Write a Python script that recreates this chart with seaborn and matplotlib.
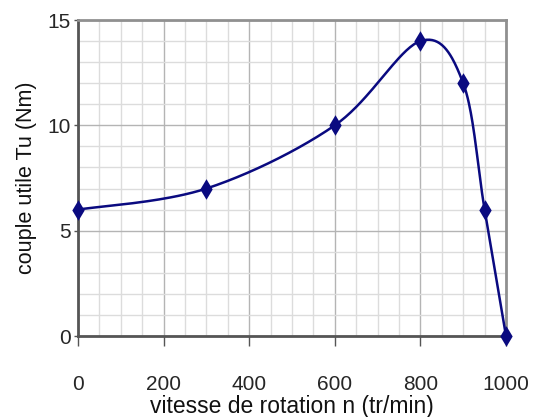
import numpy as np
import matplotlib
matplotlib.use("Agg")
import matplotlib.pyplot as plt
import seaborn as sns
import pandas as pd

# data
vitesse = [0, 300, 600, 800, 900, 950, 1000]
couple = [6, 7, 10, 14, 12, 6, 0]
x_ticks = [0, 200, 400, 600, 800, 1000]
y_ticks = [0, 5, 10, 15]

sns.set_theme(style="white")
plt.rcParams['font.family'] = ['Liberation Sans', 'DejaVu Sans']

def smooth(xs, ys, n=40):
    P = np.column_stack([xs, ys]).astype(float)
    out = []
    m = len(P)
    for i in range(m - 1):
        p0 = P[i - 1] if i > 0 else P[i]
        p1, p2 = P[i], P[i + 1]
        p3 = P[i + 2] if i + 2 < m else P[i + 1]
        c1 = p1 + (p2 - p0) / 6
        c2 = p2 - (p3 - p1) / 6
        t = np.linspace(0, 1, n)[:, None]
        seg = (1 - t) ** 3 * p1 + 3 * (1 - t) ** 2 * t * c1 + 3 * (1 - t) * t ** 2 * c2 + t ** 3 * p2
        out.append(seg if i == 0 else seg[1:])
    return np.vstack(out)

df = pd.DataFrame({"x": vitesse, "y": couple})
curve = smooth(vitesse, couple)
cdf = pd.DataFrame({"x": curve[:, 0], "y": curve[:, 1]})

fig = plt.figure(figsize=(5.4, 4.17), dpi=100)
ax = fig.add_axes([78/540, 81/417, 428/540, 316/417])

navy = "#0a0a80"
sns.lineplot(data=cdf, x="x", y="y", ax=ax, color=navy, lw=1.8, sort=False, zorder=3)
sns.scatterplot(data=df, x="x", y="y", ax=ax, color=navy, marker="d", s=110,
                edgecolor=navy, linewidth=0, zorder=4, clip_on=False)

ax.set_xlim(0, 1000)
ax.set_ylim(0, 15)
ax.set_xticks(x_ticks)
ax.set_yticks(y_ticks)
ax.set_xticks(np.arange(0, 1001, 50), minor=True)
ax.set_yticks(np.arange(0, 16, 1), minor=True)
ax.grid(which="minor", color="#dcdcdc", lw=1.0)
ax.grid(which="major", color="#b4b4b4", lw=1.0)
ax.set_axisbelow(True)

ax.tick_params(axis="x", which="major", direction="out", length=7, width=1, color="#555555",
               pad=21, labelsize=15, bottom=True)
ax.tick_params(axis="y", which="major", direction="out", length=3, width=1, color="#555555",
               pad=2, labelsize=15, left=True)
ax.tick_params(which="minor", length=0)

for s in ["left", "bottom"]:
    ax.spines[s].set_color("#555555")
    ax.spines[s].set_linewidth(2)
for s in ["top", "right"]:
    ax.spines[s].set_color("#909090")
    ax.spines[s].set_linewidth(2)

ax.set_xlabel("vitesse de rotation n (tr/min)", fontsize=16.5, labelpad=1, color="#111111")
ax.set_ylabel("couple utile Tu (Nm)", fontsize=15.5, labelpad=8, color="#111111")

fig.savefig("out.png", dpi=100)
